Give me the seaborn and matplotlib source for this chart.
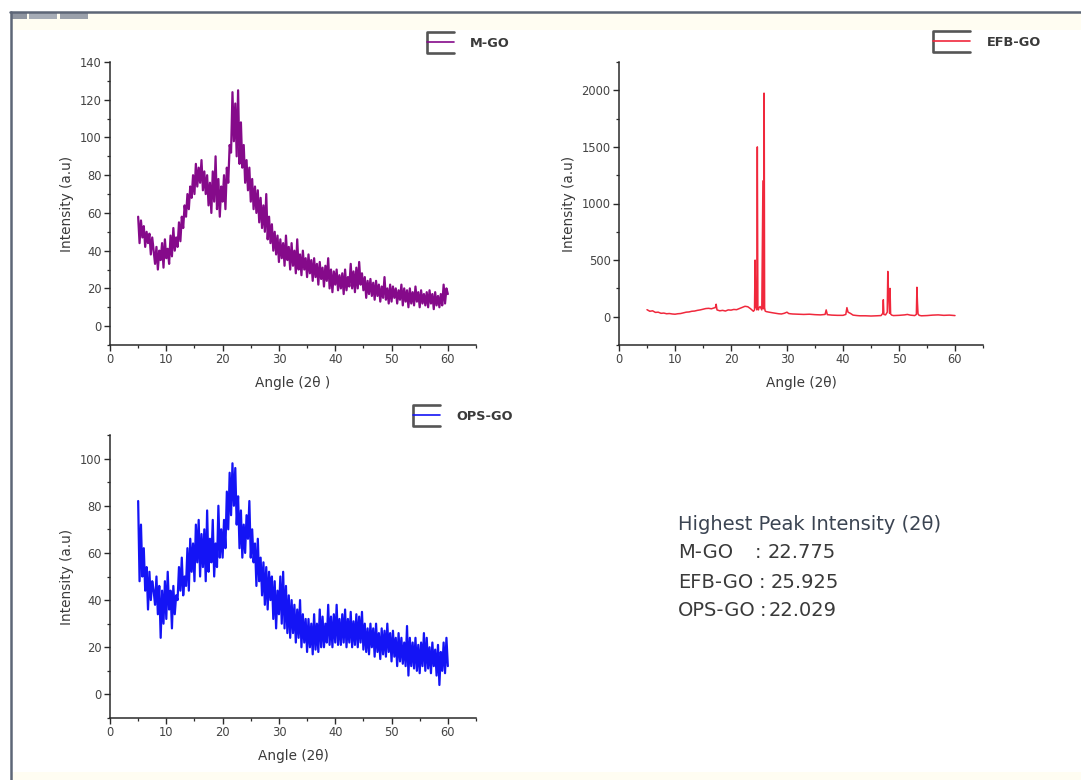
import numpy as np
import pandas as pd
import matplotlib
matplotlib.use("Agg")
import matplotlib.pyplot as plt
import seaborn as sns
from matplotlib.lines import Line2D
from matplotlib.legend_handler import HandlerBase
from matplotlib.patches import Rectangle
from matplotlib.ticker import MultipleLocator

# ---------------------------------------------------------------- data
# Scan grid for M-GO and OPS-GO (2-theta, 0.25 degree step)
scan_angles = np.arange(5.0, 60.0 + 0.125, 0.25)

mgo_intensity = [
    58, 44, 56, 47, 53, 42, 50, 44, 49, 38, 47, 40,
    33, 42, 30, 40, 35, 44, 31, 46, 36, 41, 33, 48,
    37, 52, 40, 47, 42, 55, 45, 58, 52, 64, 58, 70,
    62, 74, 68, 80, 70, 86, 74, 84, 76, 88, 72, 82,
    70, 80, 64, 76, 60, 82, 66, 90, 62, 78, 58, 74,
    66, 80, 62, 84, 76, 96, 92, 124, 98, 118, 90, 125,
    86, 108, 84, 96, 76, 88, 72, 84, 66, 78, 62, 74,
    60, 72, 55, 68, 52, 64, 50, 70, 46, 58, 44, 54,
    40, 50, 38, 48, 34, 46, 36, 44, 32, 48, 35, 42,
    30, 44, 32, 40, 28, 46, 30, 38, 27, 40, 30, 36,
    26, 38, 28, 35, 24, 36, 26, 33, 22, 34, 25, 31,
    21, 32, 24, 36, 20, 30, 18, 29, 22, 30, 19, 27,
    20, 28, 17, 30, 19, 26, 21, 33, 20, 29, 18, 31,
    20, 34, 22, 28, 19, 26, 15, 24, 17, 25, 16, 23,
    14, 24, 16, 22, 13, 21, 15, 26, 14, 20, 12, 22,
    13, 21, 15, 20, 12, 19, 14, 22, 11, 20, 13, 19,
    10, 20, 12, 18, 11, 21, 13, 18, 10, 19, 12, 17,
    11, 18, 10, 19, 12, 17, 9, 18, 11, 16, 10, 17,
    11, 22, 12, 20, 17,
]

ops_intensity = [
    82, 48, 72, 50, 62, 44, 54, 36, 52, 40, 48, 44,
    38, 50, 34, 46, 24, 44, 30, 48, 32, 52, 36, 44,
    28, 46, 34, 42, 40, 54, 44, 58, 42, 50, 46, 62,
    44, 66, 52, 64, 48, 72, 56, 74, 50, 68, 54, 70,
    48, 78, 52, 66, 56, 74, 50, 64, 54, 80, 58, 70,
    58, 74, 62, 86, 70, 94, 76, 98, 80, 96, 72, 84,
    62, 78, 58, 72, 60, 76, 66, 82, 58, 70, 56, 64,
    46, 66, 48, 58, 42, 56, 38, 54, 36, 52, 40, 50,
    32, 48, 28, 44, 34, 50, 30, 52, 28, 46, 26, 42,
    24, 40, 26, 38, 22, 36, 24, 40, 20, 34, 22, 32,
    18, 32, 20, 30, 17, 34, 19, 30, 18, 36, 20, 33,
    20, 30, 22, 38, 21, 33, 20, 34, 22, 38, 21, 32,
    21, 34, 22, 36, 20, 32, 22, 35, 20, 31, 21, 34,
    20, 33, 22, 35, 19, 30, 18, 28, 17, 30, 20, 28,
    16, 30, 18, 26, 15, 28, 17, 27, 16, 30, 18, 26,
    14, 27, 16, 24, 12, 26, 14, 24, 13, 22, 12, 29,
    8, 24, 12, 22, 11, 24, 10, 21, 9, 22, 12, 26,
    10, 24, 11, 20, 9, 22, 12, 19, 8, 21, 4, 18,
    10, 22, 9, 24, 12,
]

# EFB-GO: sharp crystalline reflections, sampled more finely around the peaks
efb_angles = [
    5.0, 5.5, 6.0, 6.5, 7.0, 7.5, 8.0, 8.5, 9.0, 9.5, 10.0, 10.5, 11.0, 11.5,
    12.0, 12.5, 13.0, 13.5, 14.0, 14.5, 15.0, 15.5, 16.0, 16.5, 17.0, 17.2,
    17.35, 17.5, 18.0, 18.5, 19.0, 19.5, 20.0, 20.5, 21.0, 21.5, 22.0, 22.5,
    23.0, 23.5, 24.0, 24.2, 24.3, 24.4, 24.5, 24.6, 24.7, 24.8, 24.9, 25.0,
    25.2, 25.5, 25.7, 25.8, 25.9, 25.925, 26.0, 26.1, 26.3, 26.8, 27.5, 28.0,
    28.5, 29.0, 29.5, 30.0, 30.3, 30.6, 31.0, 32.0, 33.0, 34.0, 35.0, 36.0,
    36.8, 37.0, 37.2, 37.6, 38.0, 39.0, 40.0, 40.5, 40.7, 40.9, 41.3, 41.8,
    42.5, 43.0, 44.0, 45.0, 46.0, 46.8, 47.1, 47.2, 47.3, 47.6, 47.9, 48.0,
    48.1, 48.3, 48.4, 48.5, 48.7, 49.0, 50.0, 51.0, 51.5, 52.0, 52.8, 53.1,
    53.2, 53.3, 53.4, 53.6, 54.0, 55.0, 56.0, 57.0, 58.0, 59.0, 59.5, 60.0,
]
efb_intensity = [
    62, 48, 52, 38, 40, 30, 32, 26, 28, 24, 22, 26, 28, 34,
    40, 42, 48, 50, 56, 60, 66, 72, 74, 70, 78, 80,
    110, 60, 52, 56, 50, 60, 58, 64, 62, 72, 82, 92,
    88, 70, 48, 60, 500, 80, 130, 60, 1500, 70, 60, 80,
    90, 60, 1200, 70, 1975, 1960, 80, 50, 45, 40, 34, 30,
    26, 24, 30, 40, 28, 26, 24, 22, 20, 22, 18, 16,
    20, 60, 18, 16, 14, 12, 12, 20, 80, 40, 30, 14,
    10, 8, 8, 6, 8, 10, 30, 150, 20, 16, 40, 400,
    250, 30, 250, 24, 14, 10, 12, 16, 20, 14, 10, 20,
    260, 120, 24, 12, 8, 10, 14, 16, 12, 14, 12, 10,
]

series_names = ["M-GO", "EFB-GO", "OPS-GO"]
series_colors = ["#850a8a", "#f0283c", "#1414f5"]
peak_positions = ["22.775", "25.925", "22.029"]

mgo = pd.DataFrame({"angle": scan_angles, "intensity": mgo_intensity})
ops = pd.DataFrame({"angle": scan_angles, "intensity": ops_intensity})
efb = pd.DataFrame({"angle": efb_angles, "intensity": efb_intensity})

# ---------------------------------------------------------------- style
sns.set_theme(style="ticks")
plt.rcParams["font.family"] = ["DejaVu Sans"]
plt.rcParams["axes.linewidth"] = 1.1
plt.rcParams["axes.edgecolor"] = "#2a2a2a"

W, H = 1081, 780
fig = plt.figure(figsize=(W / 100, H / 100), dpi=100)
fig.patch.set_facecolor("white")


def fx(px):
    return px / W


def fy(py):
    return 1 - py / H


# window frame around the plots
fig.add_artist(Rectangle((fx(12), fy(30)), 1 - fx(12), fy(13) - fy(30),
                         transform=fig.transFigure, facecolor="#fffdf2",
                         edgecolor="none", zorder=0))
fig.add_artist(Rectangle((fx(12), 0), 1 - fx(12), fy(772),
                         transform=fig.transFigure, facecolor="#fffdf2",
                         edgecolor="none", zorder=0))
fig.add_artist(Line2D([fx(10), 1], [fy(12), fy(12)], transform=fig.transFigure,
                      color="#5d6677", lw=1.8))
fig.add_artist(Line2D([fx(11), fx(11)], [fy(12), 0], transform=fig.transFigure,
                      color="#5d6677", lw=1.8))
for x0, x1, c in [(11, 27, "#8f95a0"), (29, 57, "#a6acb6"), (60, 88, "#9aa0aa")]:
    fig.add_artist(Rectangle((fx(x0), fy(19)), fx(x1) - fx(x0), fy(13) - fy(19),
                             transform=fig.transFigure, facecolor=c,
                             edgecolor="none"))


class BracketHandler(HandlerBase):
    """Legend key: open bracket with the series colour on the middle bar."""

    def create_artists(self, legend, orig_handle, xdescent, ydescent,
                       width, height, fontsize, trans):
        col = orig_handle.get_color()
        x0, x1 = -xdescent, -xdescent + width
        yc = -ydescent + height / 2
        h = height * 1.2
        frame = Line2D([x1, x0, x0, x1], [yc + h, yc + h, yc - h, yc - h],
                       color="#555555", lw=1.9, transform=trans)
        mid = Line2D([x0, x1], [yc, yc], color=col, lw=1.2, transform=trans)
        return [frame, mid]


def style_axes(ax, xlabel, ylim, ymajor, yminor):
    ax.set_xlim(0, 65)
    ax.set_ylim(*ylim)
    ax.xaxis.set_major_locator(MultipleLocator(10))
    ax.xaxis.set_minor_locator(MultipleLocator(5))
    ax.yaxis.set_major_locator(MultipleLocator(ymajor))
    ax.yaxis.set_minor_locator(MultipleLocator(yminor))
    ax.set_xticks([t for t in range(0, 61, 10)])
    ax.tick_params(which="major", direction="out", length=4, width=1,
                   labelsize=8.3, labelcolor="#444444", color="#2a2a2a", pad=2)
    ax.tick_params(which="minor", direction="out", length=2.5, width=0.9,
                   color="#2a2a2a")
    ax.set_xlabel(xlabel, fontsize=9.8, color="#3a3a3a", labelpad=7)
    ax.set_ylabel("Intensity (a.u)", fontsize=9.8, color="#3a3a3a", labelpad=4)
    sns.despine(ax=ax)
    ax.set_facecolor("white")


def add_key(ax, name, color, px, py, key_len=2.1):
    h = Line2D([], [], color=color)
    ax.legend([h], [name], handler_map={Line2D: BracketHandler()},
              loc="center left", bbox_to_anchor=(fx(px), fy(py)),
              bbox_transform=fig.transFigure, frameon=False,
              handlelength=key_len, handleheight=0.7, handletextpad=1.25,
              borderpad=0, borderaxespad=0,
              prop={"size": 9.3, "weight": "bold"}, labelcolor="#3a3a3a")


# ---------------------------------------------------------------- panels
ax1 = fig.add_axes([fx(110), fy(345), fx(476) - fx(110), fy(62) - fy(345)])
sns.lineplot(data=mgo, x="angle", y="intensity", ax=ax1, color=series_colors[0],
             lw=1.6, estimator=None, sort=False)
style_axes(ax1, "Angle (2θ )", (-10, 140), 20, 10)
add_key(ax1, series_names[0], series_colors[0], 427, 43.5)

ax2 = fig.add_axes([fx(619), fy(345), fx(983) - fx(619), fy(62) - fy(345)])
sns.lineplot(data=efb, x="angle", y="intensity", ax=ax2, color=series_colors[1],
             lw=1.1, estimator=None, sort=False)
style_axes(ax2, "Angle (2θ)", (-250, 2250), 500, 250)
add_key(ax2, series_names[1], series_colors[1], 933, 42.5, key_len=2.9)

ax3 = fig.add_axes([fx(110), fy(718), fx(476) - fx(110), fy(435) - fy(718)])
sns.lineplot(data=ops, x="angle", y="intensity", ax=ax3, color=series_colors[2],
             lw=1.6, estimator=None, sort=False)
style_axes(ax3, "Angle (2θ)", (-10, 110), 20, 10)
add_key(ax3, series_names[2], series_colors[2], 413, 416.5)

# ---------------------------------------------------------------- peak summary
summary_size = 14
fig.text(fx(678), fy(525), "Highest Peak Intensity (2θ)", fontsize=summary_size,
         color="#3b4452", va="center", ha="left")
colon_px = [758, 762, 763]
value_px = [768, 771, 769]
for i, (name, pos) in enumerate(zip(series_names, peak_positions)):
    yy = fy(553 + 29 * i)
    fig.text(fx(678), yy, name, fontsize=summary_size, color="#3a3a3a",
             va="center", ha="left")
    fig.text(fx(colon_px[i]), yy, ":", fontsize=summary_size, color="#3a3a3a",
             va="center", ha="center")
    fig.text(fx(value_px[i]), yy, pos, fontsize=summary_size, color="#3a3a3a",
             va="center", ha="left")

fig.savefig("out.png", dpi=100, facecolor="white")
